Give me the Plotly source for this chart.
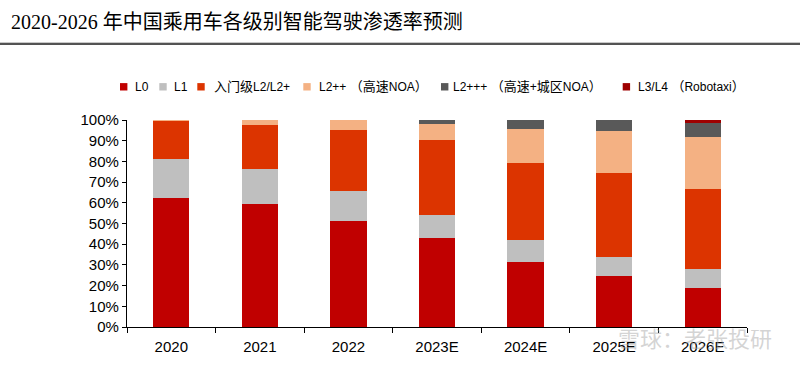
import plotly.graph_objects as go

categories = ["2020", "2021", "2022", "2023E", "2024E", "2025E", "2026E"]
L0 = [62.2, 59.3, 51.0, 43.0, 31.5, 24.7, 18.8]
L1 = [18.8, 17.1, 14.6, 11.3, 10.6, 9.2, 9.3]
L2_entry = [18.7, 21.2, 29.7, 35.9, 37.0, 40.4, 38.6]
L2pp = [0.3, 2.4, 4.7, 7.9, 16.6, 20.2, 25.2]
L2ppp = [0.0, 0.0, 0.0, 1.9, 4.3, 5.5, 6.8]
L34 = [0.0, 0.0, 0.0, 0.0, 0.0, 0.0, 1.3]

series_names = ["L0", "L1", "入门级L2/L2+", "L2++（高速NOA）", "L2+++（高速+城区NOA）", "L3/L4（Robotaxi）"]
series_values = [L0, L1, L2_entry, L2pp, L2ppp, L34]
colors = ["#C00000", "#BFBFBF", "#DC3400", "#F4B183", "#595959", "#9E0000"]

title_text = "2020-2026 年中国乘用车各级别智能驾驶渗透率预测"
watermark = "雪球：老张投研"

# plot area in pixels
PL, PR, PT, PB = 127, 747, 120, 327
PW, PH = PR - PL, PB - PT


def px(x):
    return (x - PL) / PW


def py(y):
    return (PB - y) / PH


fig = go.Figure()
for name, vals, col in zip(series_names, series_values, colors):
    fig.add_trace(go.Bar(
        x=categories, y=[v / 100 for v in vals], name=name,
        marker=dict(color=col, line=dict(width=0)),
        showlegend=False,
    ))

fig.update_layout(
    barmode="stack",
    bargap=0.59,
    width=800, height=366,
    margin=dict(l=PL, r=800 - PR, t=PT, b=366 - PB),
    paper_bgcolor="white", plot_bgcolor="white",
    font=dict(family="Liberation Sans, Arial, sans-serif", color="#000000"),
    xaxis=dict(
        showline=True, linecolor="#000000", linewidth=1.2,
        ticks="outside", tickson="boundaries", ticklen=5, tickcolor="#000000",
        tickfont=dict(size=15, family="Liberation Sans, Arial, sans-serif"),
        ticklabelstandoff=6,
        showgrid=False,
    ),
    yaxis=dict(
        range=[0, 1.0], dtick=0.1, tickformat=".0%",
        showline=True, linecolor="#000000", linewidth=1.2,
        ticks="outside", ticklen=4, tickcolor="#000000",
        tickfont=dict(size=15, family="Liberation Sans, Arial, sans-serif"),
        showgrid=False, zeroline=False,
    ),
)

# Title
fig.add_annotation(
    xref="paper", yref="paper", x=px(9), y=py(21.5),
    text=title_text, showarrow=False, xanchor="left", yanchor="middle",
    font=dict(family="Liberation Serif, Noto Sans CJK SC, serif", size=20, color="#000000"),
)
# Rule under title
fig.add_shape(type="line", xref="paper", yref="paper",
              x0=px(0), x1=px(800), y0=py(44), y1=py(44),
              line=dict(color="#1a1a1a", width=1.6))
fig.add_shape(type="line", xref="paper", yref="paper",
              x0=px(0), x1=px(800), y0=py(42.5), y1=py(42.5),
              line=dict(color="#c8c8c8", width=1))


def fmt_label(s):
    out = []
    for ch in s:
        if ch == "（":
            out.append('&nbsp;<span style="font-size:13px">（</span>')
        elif ord(ch) > 0x2E80:
            out.append('<span style="font-size:13px">%s</span>' % ch)
        else:
            out.append(ch)
    return "".join(out)


# Custom legend
legend_sq_x = [120, 159.3, 197.3, 303.3, 441, 622.7]
legend_txt_x = [132.5, 171.5, 211.5, 316.5, 450.5, 636]
legend_y = 86.8
sq = 7.4
for name, col, sx, tx in zip(series_names, colors, legend_sq_x, legend_txt_x):
    fig.add_shape(type="rect", xref="paper", yref="paper",
                  x0=px(sx), x1=px(sx + sq),
                  y0=py(legend_y + sq / 2), y1=py(legend_y - sq / 2),
                  fillcolor=col, line=dict(width=0))
    fig.add_annotation(xref="paper", yref="paper",
                       x=px(tx), y=py(legend_y),
                       text=fmt_label(name), showarrow=False, xanchor="left", yanchor="middle",
                       font=dict(size=12, family="Liberation Sans, Noto Sans CJK SC, sans-serif", color="#000000"))

# Watermark
fig.add_annotation(xref="paper", yref="paper", x=px(616), y=py(337),
                   text=watermark, showarrow=False, xanchor="left", yanchor="middle",
                   font=dict(size=22, family="Noto Sans CJK SC, sans-serif", color="rgba(170,170,170,0.5)"))

fig.write_html("out.html",
               config={"displayModeBar": False},
               post_script="document.body.style.margin='0';document.body.style.padding='0';")
